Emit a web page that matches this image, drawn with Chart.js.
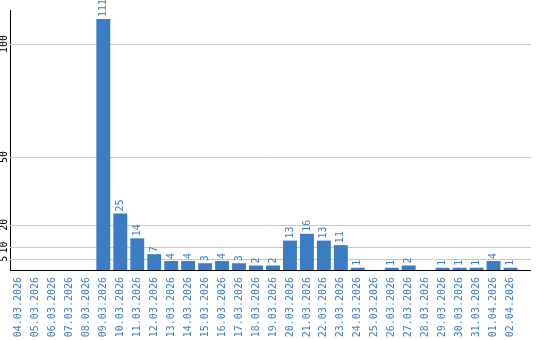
<!DOCTYPE html>
<html>
<head>
<meta charset="utf-8">
<script src="https://cdn.jsdelivr.net/npm/chart.js@4/dist/chart.umd.min.js"></script>
<style>
  html, body { margin: 0; padding: 0; background: #fff; }
  #wrap { width: 540px; height: 340px; }
</style>
</head>
<body>
<div id="wrap"><canvas id="chart"></canvas></div>
<script>
const dates = [
  '04.03.2026', '05.03.2026', '06.03.2026', '07.03.2026', '08.03.2026',
  '09.03.2026', '10.03.2026', '11.03.2026', '12.03.2026', '13.03.2026',
  '14.03.2026', '15.03.2026', '16.03.2026', '17.03.2026', '18.03.2026',
  '19.03.2026', '20.03.2026', '21.03.2026', '22.03.2026', '23.03.2026',
  '24.03.2026', '25.03.2026', '26.03.2026', '27.03.2026', '28.03.2026',
  '29.03.2026', '30.03.2026', '31.03.2026', '01.04.2026', '02.04.2026'
];
const counts = [
  0, 0, 0, 0, 0,
  111, 25, 14, 7, 4,
  4, 3, 4, 3, 2,
  2, 13, 16, 13, 11,
  1, 0, 1, 2, 0,
  1, 1, 1, 4, 1
];
const yTicks = [5, 10, 20, 50, 100];
const yMax = 115;

const blue = '#3b7dc4';
const monoFont = { family: '"DejaVu Sans Mono", monospace', size: 10 };
const gridRight = 531;

// grid lines and base line go a little past the last bar
const gridPlugin = {
  id: 'gridLines',
  beforeDatasetsDraw(chart) {
    const { ctx, chartArea, scales: { y } } = chart;
    ctx.save();
    ctx.lineWidth = 1;
    ctx.strokeStyle = '#c8c8c8';
    yTicks.forEach(v => {
      const py = Math.round(y.getPixelForValue(v)) + 0.5;
      ctx.beginPath();
      ctx.moveTo(chartArea.left, py);
      ctx.lineTo(gridRight, py);
      ctx.stroke();
    });
    ctx.restore();
  },
  afterDatasetsDraw(chart) {
    const { ctx, chartArea, scales: { y } } = chart;
    ctx.save();
    const py = Math.round(y.getPixelForValue(0)) + 0.5;
    ctx.strokeStyle = '#000';
    ctx.lineWidth = 1;
    ctx.beginPath();
    ctx.moveTo(chartArea.left, py);
    ctx.lineTo(gridRight, py);
    ctx.stroke();

    // values above the bars, turned upright
    ctx.fillStyle = blue;
    ctx.font = '10px "DejaVu Sans Mono", monospace';
    ctx.textAlign = 'left';
    ctx.textBaseline = 'middle';
    chart.getDatasetMeta(0).data.forEach((bar, i) => {
      if (!counts[i]) return;
      ctx.save();
      ctx.translate(bar.x, bar.y - 2);
      ctx.rotate(-Math.PI / 2);
      ctx.fillText(String(counts[i]), 0, 0);
      ctx.restore();
    });
    ctx.restore();
  }
};

new Chart(document.getElementById('chart'), {
  type: 'bar',
  data: {
    labels: dates,
    datasets: [{
      data: counts,
      backgroundColor: blue,
      borderWidth: 0,
      barPercentage: 0.82,
      categoryPercentage: 1
    }]
  },
  options: {
    responsive: true,
    maintainAspectRatio: false,
    animation: false,
    layout: { padding: { top: 10, right: 21, left: 0, bottom: 0 } },
    plugins: {
      legend: { display: false },
      tooltip: { enabled: false }
    },
    scales: {
      x: {
        grid: { display: false, drawTicks: false },
        border: { display: false },
        ticks: {
          color: blue,
          font: monoFont,
          autoSkip: false,
          minRotation: 90,
          maxRotation: 90,
          padding: 7
        },
        afterFit(scale) { scale.height = 70; }
      },
      y: {
        min: 0,
        max: yMax,
        grid: { display: false, drawTicks: false },
        border: { display: true, color: '#000', width: 1 },
        afterBuildTicks(scale) {
          scale.ticks = yTicks.map(v => ({ value: v }));
        },
        ticks: {
          color: '#000',
          font: monoFont,
          minRotation: 90,
          maxRotation: 90,
          crossAlign: 'center',
          padding: -3
        },
        afterFit(scale) { scale.width = 10; }
      }
    }
  },
  plugins: [gridPlugin]
});
</script>
</body>
</html>
